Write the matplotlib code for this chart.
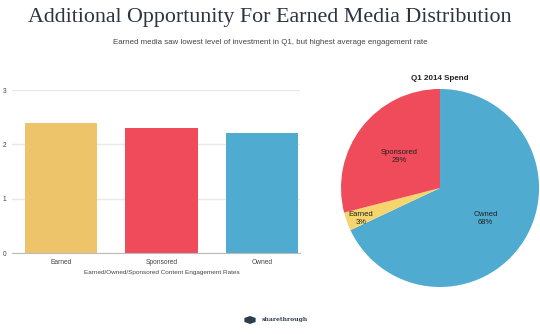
import matplotlib.pyplot as plt
from matplotlib.patches import RegularPolygon

categories = ["Earned", "Sponsored", "Owned"]
engagement = [2.4, 2.3, 2.2]
bar_colors = ["#EEC46A", "#EF4B5B", "#4FABD0"]

spend_labels = ["Owned", "Earned", "Sponsored"]
spend_share = [68, 3, 29]
pie_colors = ["#4FABD0", "#F5D56E", "#EF4B5B"]

plt.rcParams["font.family"] = ["Liberation Sans", "DejaVu Sans"]

fig = plt.figure(figsize=(5.4, 3.34), dpi=100)
fig.patch.set_facecolor("white")

fig.text(0.5, 0.948, "Additional Opportunity For Earned Media Distribution",
         ha="center", va="center", family="Liberation Serif", fontsize=15.8,
         color="#2B3440")
fig.text(0.5, 0.874,
         "Earned media saw lowest level of investment in Q1, but highest average engagement rate",
         ha="center", va="center", fontsize=5.65, color="#444444")

# engagement bars
ax = fig.add_axes([0.0222, 0.2425, 0.533, 0.488])
ax.bar(range(len(categories)), engagement, width=0.72, color=bar_colors, zorder=2)
ax.set_xlim(-0.49, 2.38)
ax.set_ylim(0, 3)
ax.set_yticks([0, 1, 2, 3])
ax.set_xticks(range(len(categories)))
ax.set_xticklabels(categories)
ax.tick_params(length=0, labelsize=4.8, colors="#444444", pad=4)
ax.tick_params(axis="y", pad=4)
ax.grid(axis="y", color="#E8E8E8", linewidth=1, zorder=0)
for side in ["top", "right", "left"]:
    ax.spines[side].set_visible(False)
ax.spines["bottom"].set_color("#BBBBBB")
ax.spines["bottom"].set_zorder(3)
ax.set_xlabel("Earned/Owned/Sponsored Content Engagement Rates",
              fontsize=4.6, color="#444444")
ax.xaxis.set_label_coords(0.52, -0.105)

# spend pie
pax = fig.add_axes([0.6315, 0.1407, 0.3667, 0.593])
pax.pie(spend_share, colors=pie_colors, startangle=90, counterclock=False,
        radius=1, wedgeprops=dict(linewidth=0))
pax.set_xlim(-1, 1)
pax.set_ylim(-1, 1)
pax.set_aspect("equal")
pax.axis("off")
label_pos = {"Owned": (0.46, -0.31), "Earned": (-0.8, -0.31), "Sponsored": (-0.41, 0.32)}
for name, share in zip(spend_labels, spend_share):
    x, y = label_pos[name]
    pax.text(x, y, f"{name}\n{share}%", ha="center", va="center",
             fontsize=5.5, color="#222222", linespacing=1.15)
fig.text(0.815, 0.766, "Q1 2014 Spend", ha="center", va="center",
         fontsize=5.8, fontweight="bold", color="#222222")

# footer logo
fig.patches.append(RegularPolygon((0.463, 0.042), numVertices=6, radius=0.012,
                                  orientation=0, transform=fig.transFigure,
                                  facecolor="#2E3D4E", edgecolor="none"))
fig.text(0.485, 0.042, "sharethrough", ha="left", va="center",
         family="DejaVu Serif", fontsize=4.4, fontweight="bold", color="#2E3D4E")

fig.savefig("out.png", dpi=100, facecolor="white")
